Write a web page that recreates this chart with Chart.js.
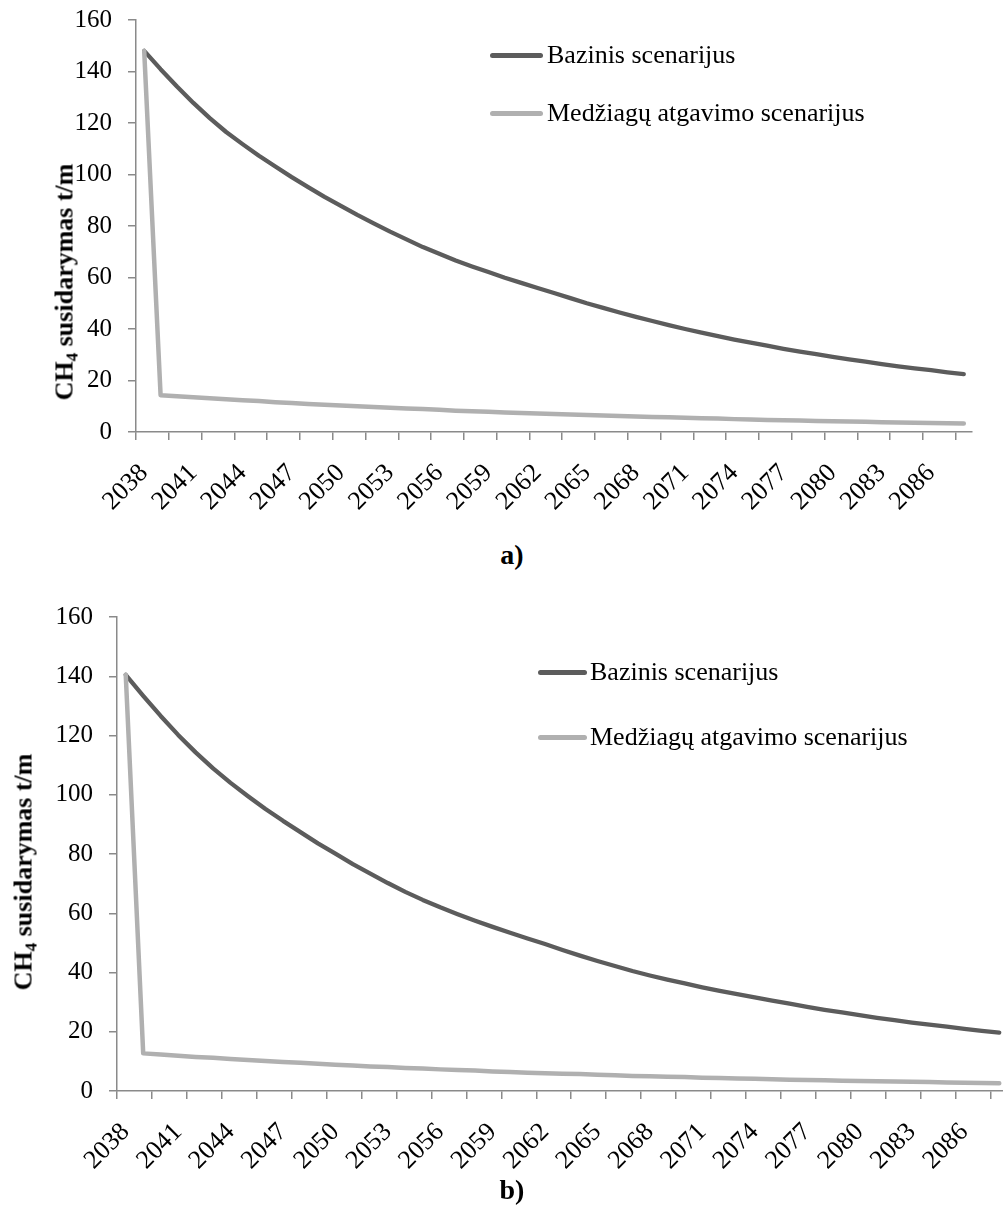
<!DOCTYPE html>
<html><head><meta charset="utf-8">
<script src="https://cdn.jsdelivr.net/npm/chart.js@4.4.1/dist/chart.umd.min.js"></script>
<style>
html,body{margin:0;padding:0;background:#fff;overflow:hidden;width:1003px;height:1211px;}
body{position:relative;font-family:"Liberation Serif","Times New Roman",serif;color:#000;}
.wrap{position:absolute;left:0;}
canvas{display:block;}
.ytitle{position:absolute;transform:translate(-50%,-50%) rotate(-90deg);white-space:nowrap;font-weight:bold;font-size:26px;line-height:1;}
.ytitle sub{font-size:17px;vertical-align:-5px;}
.cap{position:absolute;transform:translate(-50%,-50%);font-weight:bold;font-size:28px;line-height:1;}
.legend{position:absolute;font-size:26px;line-height:1;}
.legend .row{position:absolute;left:0;white-space:nowrap;display:flex;align-items:center;transform:translateY(-50%);}
.legend .sw{display:inline-block;height:5px;border-radius:3px;}
</style></head><body>
<div class="wrap" style="top:0;width:1003px;height:520px"><canvas id="ca" width="1003" height="520"></canvas></div>
<div class="wrap" style="top:600px;width:1040px;height:580px"><canvas id="cb" width="1040" height="580"></canvas></div>
<div class="ytitle" style="left:66px;top:282px">CH<sub>4</sub> susidarymas t/m</div>
<div class="ytitle" style="left:25px;top:872px">CH<sub>4</sub> susidarymas t/m</div>
<div class="cap" style="left:512px;top:555px">a)</div>
<div class="cap" style="left:512px;top:1190px">b)</div>
<div class="legend" id="legA" style="left:490px;top:0px"></div>
<div class="legend" id="legB" style="left:538px;top:0px"></div>
<script>
const years = ['2038','2039','2040','2041','2042','2043','2044','2045','2046','2047','2048','2049','2050','2051','2052','2053','2054','2055','2056','2057','2058','2059','2060','2061','2062','2063','2064','2065','2066','2067','2068','2069','2070','2071','2072','2073','2074','2075','2076','2077','2078','2079','2080','2081','2082','2083','2084','2085','2086','2087','2088'];
const seriesNames = ['Bazinis scenarijus', 'Medžiagų atgavimo scenarijus'];
const baseA = [148.0,140.9,134.2,127.8,121.9,116.5,111.8,107.3,103.1,99.0,95.1,91.3,87.8,84.3,81.0,77.8,74.8,71.8,69.2,66.6,64.3,62.1,59.9,57.9,55.9,54.0,52.0,50.0,48.2,46.4,44.7,43.1,41.5,40.0,38.6,37.2,35.9,34.7,33.5,32.3,31.2,30.2,29.2,28.2,27.3,26.4,25.5,24.7,24.0,23.2,22.5];
const recoveryA = [148,14.3,13.9,13.5,13.1,12.7,12.3,12.0,11.6,11.3,10.9,10.6,10.3,10.0,9.7,9.4,9.1,8.9,8.6,8.3,8.1,7.9,7.6,7.4,7.2,7.0,6.8,6.6,6.4,6.2,6.0,5.8,5.7,5.5,5.3,5.2,5.0,4.9,4.7,4.6,4.5,4.3,4.2,4.1,4.0,3.8,3.7,3.6,3.5,3.4,3.3];
const baseB = [140.5,133.4,126.6,120.2,114.3,108.9,104.0,99.5,95.2,91.2,87.4,83.6,80.1,76.6,73.4,70.2,67.2,64.5,62.0,59.7,57.5,55.4,53.4,51.5,49.6,47.6,45.7,43.9,42.2,40.5,39.0,37.6,36.3,35.0,33.8,32.7,31.6,30.5,29.5,28.4,27.4,26.5,25.6,24.7,23.9,23.1,22.4,21.7,21.0,20.3,19.7];
const recoveryB = [140.5,12.7,12.3,11.9,11.5,11.2,10.8,10.5,10.1,9.8,9.5,9.2,8.9,8.6,8.3,8.1,7.8,7.6,7.3,7.1,6.9,6.6,6.4,6.2,6.0,5.8,5.7,5.5,5.3,5.1,5.0,4.8,4.7,4.5,4.4,4.2,4.1,4.0,3.8,3.7,3.6,3.5,3.4,3.3,3.2,3.1,3.0,2.9,2.8,2.7,2.6];
const yMin = 0, yMax = 160, yStep = 20;
const labelEvery = 3, tickEvery = 2;

const colors = ['#5c5c5c', '#b0b0b0'];
const axisColor = '#8a8a8a';
Chart.defaults.font.family = '"Liberation Serif","Times New Roman",serif';
Chart.defaults.color = '#000';

function makeChart(id, base, rec, L) {
  return new Chart(document.getElementById(id), {
    type: 'line',
    data: {
      labels: years,
      datasets: [
        {label: seriesNames[0], data: base, borderColor: colors[0], backgroundColor: colors[0], borderWidth: 4.3, pointRadius: 0, tension: 0, borderCapStyle: 'round', borderJoinStyle: 'round', order: 1},
        {label: seriesNames[1], data: rec, borderColor: colors[1], backgroundColor: colors[1], borderWidth: 4.5, pointRadius: 0, tension: 0, borderCapStyle: 'round', borderJoinStyle: 'round', order: 0}
      ]
    },
    options: {
      responsive: false, animation: false, devicePixelRatio: 1,
      layout: {padding: {top: L.top, right: L.right, left: 0, bottom: 0}},
      plugins: {legend: {display: false}, tooltip: {enabled: false}},
      scales: {
        x: {
          type: 'category', offset: true,
          afterFit: s => { s.height = L.xh; s.paddingLeft = 0; s.paddingRight = 0; },
          border: {display: true, color: axisColor, width: 1.5},
          grid: {offset: true, drawOnChartArea: false, drawTicks: true, tickLength: 8, lineWidth: 1.5,
                 color: c => (c.index !== undefined && c.index % tickEvery === 0) ? axisColor : 'rgba(0,0,0,0)'},
          ticks: {autoSkip: false, maxRotation: 45, minRotation: 45, padding: L.xpad, font: {size: 26}, color: '#000',
                  callback: function(v, i) { return i % labelEvery === 0 ? this.getLabelForValue(v) : ''; }}
        },
        y: {
          min: yMin, max: yMax,
          afterFit: s => { s.width = L.yw; s.paddingTop = 0; s.paddingBottom = 0; },
          border: {display: true, color: axisColor, width: 1.5},
          grid: {drawOnChartArea: false, drawTicks: true, tickLength: 8, lineWidth: 1.5, color: axisColor},
          ticks: {stepSize: yStep, padding: 16, font: {size: 25}, color: '#000'}
        }
      }
    }
  });
}

const chA = makeChart('ca', baseA, recoveryA, {top: 20, right: 31, xh: 88, yw: 136, xpad: 18});
const chB = makeChart('cb', baseB, recoveryB, {top: 17, right: 32, xh: 89, yw: 117, xpad: 18});

function buildLegend(el, chart, ys, swW, gap) {
  chart.data.datasets.forEach((ds, i) => {
    const row = document.createElement('div');
    row.className = 'row';
    row.style.top = ys[i] + 'px';
    const sw = document.createElement('span');
    sw.className = 'sw';
    sw.style.width = swW + 'px';
    sw.style.marginRight = gap + 'px';
    sw.style.background = ds.borderColor;
    const tx = document.createElement('span');
    tx.textContent = ds.label;
    row.appendChild(sw); row.appendChild(tx);
    el.appendChild(row);
  });
}
buildLegend(document.getElementById('legA'), chA, [55, 113], 53, 4);
buildLegend(document.getElementById('legB'), chB, [672, 737], 49, 3);
</script>
</body></html>
